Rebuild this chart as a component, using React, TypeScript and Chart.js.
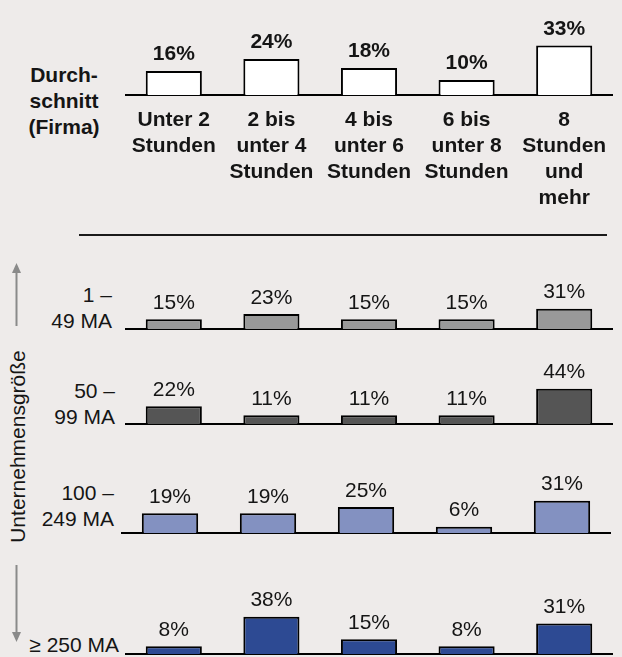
import React, { useEffect, useRef } from "react";
import { Chart, registerables } from "chart.js";

Chart.register(...registerables);

// ---- data ----
const categories: string[][] = [
  ["Unter 2", "Stunden"],
  ["2 bis", "unter 4", "Stunden"],
  ["4 bis", "unter 6", "Stunden"],
  ["6 bis", "unter 8", "Stunden"],
  ["8", "Stunden", "und", "mehr"],
];
const averageLabel = ["Durch-", "schnitt", "(Firma)"];
const averageValues = [16, 24, 18, 10, 33];

const sizeLabels = [["1 –", "49 MA"], ["50 –", "99 MA"], ["100 –", "249 MA"], ["≥ 250 MA"]];
const size1to49 = [15, 23, 15, 15, 31];
const size50to99 = [22, 11, 11, 11, 44];
const size100to249 = [19, 19, 25, 6, 31];
const size250plus = [8, 38, 15, 8, 31];
const axisTitle = "Unternehmensgröße";

const FONT = "'Liberation Sans', Arial, Helvetica, sans-serif";
const TEXT = "#151515";
const BG = "#eeebea";

const valueLabels = {
  id: "valueLabels",
  afterDatasetsDraw(chart: any, _args: any, opts: any) {
    const ctx = chart.ctx;
    const meta = chart.getDatasetMeta(0);
    const data = chart.data.datasets[0].data;
    ctx.save();
    ctx.font = `${opts.weight} 21px ${FONT}`;
    ctx.fillStyle = TEXT;
    ctx.textAlign = "center";
    ctx.textBaseline = "alphabetic";
    meta.data.forEach((bar: any, i: number) => {
      ctx.fillText(`${data[i]}%`, bar.x, bar.y - 10.5);
    });
    ctx.restore();
  },
};

type RowProps = {
  values: number[];
  color: string;
  left: number;
  top: number;
  width: number;
  plotHeight: number;
  axisHeight: number;
  ymax: number;
  bold?: boolean;
  showTicks?: boolean;
};

function BarRow(p: RowProps) {
  const ref = useRef<HTMLCanvasElement | null>(null);
  useEffect(() => {
    if (!ref.current) return;
    const chart = new Chart(ref.current, {
      type: "bar",
      data: {
        labels: categories as any,
        datasets: [
          {
            data: p.values,
            backgroundColor: p.color,
            borderColor: "#000",
            borderWidth: 2,
            barPercentage: 0.575,
            categoryPercentage: 1,
          },
        ],
      },
      options: {
        animation: false,
        responsive: false,
        maintainAspectRatio: false,
        layout: { padding: 0 },
        plugins: {
          legend: { display: false },
          tooltip: { enabled: false },
          valueLabels: { weight: p.bold ? "bold" : "normal" },
        } as any,
        scales: {
          y: { display: false, min: 0, max: p.ymax },
          x: {
            display: true,
            grid: { display: false, drawTicks: false },
            border: { display: true, color: "#000", width: 2 },
            ticks: {
              display: !!p.showTicks,
              autoSkip: false,
              maxRotation: 0,
              minRotation: 0,
              padding: 12,
              color: TEXT,
              font: { family: FONT, size: 21, weight: "bold", lineHeight: "26px" } as any,
            },
            afterFit: (scale: any) => {
              scale.height = p.axisHeight;
              scale.paddingLeft = 0;
              scale.paddingRight = 0;
            },
          },
        },
      },
      plugins: [valueLabels],
    });
    return () => chart.destroy();
  }, []);
  return (
    <canvas
      ref={ref}
      width={p.width}
      height={p.plotHeight + p.axisHeight}
      style={{ position: "absolute", left: p.left, top: p.top, width: p.width, height: p.plotHeight + p.axisHeight }}
    />
  );
}

function RowLabel({ lines, right, top, bold }: { lines: string[]; right: number; top: number; bold?: boolean }) {
  return (
    <div
      style={{
        position: "absolute",
        left: 0,
        width: right,
        top,
        textAlign: "right",
        font: `${bold ? "bold " : ""}21px ${FONT}`,
        lineHeight: "26px",
        color: TEXT,
        whiteSpace: "nowrap",
      }}
    >
      {lines.map((l, i) => (
        <div key={i}>{l}</div>
      ))}
    </div>
  );
}

export default function App() {
  useEffect(() => {
    document.body.style.margin = "0";
    document.body.style.background = BG;
  }, []);
  return (
    <div style={{ position: "absolute", left: 0, top: 0, width: 622, height: 657, background: BG, overflow: "hidden" }}>
      {/* average row */}
      <div
        style={{
          position: "absolute",
          left: 14,
          width: 100,
          top: 62,
          textAlign: "center",
          font: `bold 21px ${FONT}`,
          lineHeight: "26px",
          color: TEXT,
        }}
      >
        {averageLabel.map((l, i) => (
          <div key={i}>{l}</div>
        ))}
      </div>
      <BarRow values={averageValues} color="#ffffff" left={125} top={0} width={488} plotHeight={95} axisHeight={120} ymax={63.3} bold showTicks />

      {/* separator */}
      <div style={{ position: "absolute", left: 79, top: 234, width: 528, height: 2, background: "#1a1a1a" }} />

      {/* company size rows */}
      <RowLabel lines={sizeLabels[0]} right={112} top={282} />
      <BarRow values={size1to49} color="#999999" left={125} top={270} width={488} plotHeight={59} axisHeight={2} ymax={90.8} />

      <RowLabel lines={sizeLabels[1]} right={115} top={378} />
      <BarRow values={size50to99} color="#555555" left={125} top={355} width={488} plotHeight={69} axisHeight={2} ymax={86} />

      <RowLabel lines={sizeLabels[2]} right={114} top={480} />
      <BarRow values={size100to249} color="#8391c1" left={121} top={470} width={490} plotHeight={63} axisHeight={2} ymax={60.6} />

      <RowLabel lines={sizeLabels[3]} right={119} top={632} />
      <BarRow values={size250plus} color="#2d4a93" left={125} top={585} width={488} plotHeight={69} axisHeight={2} ymax={70.4} />

      {/* vertical axis title with arrows */}
      <svg width={40} height={657} style={{ position: "absolute", left: 0, top: 0 }}>
        <line x1={16.5} y1={272} x2={16.5} y2={326} stroke="#8a8a8a" strokeWidth={2} />
        <polygon points="16.5,263 12,273 21,273" fill="#8a8a8a" />
        <line x1={16.5} y1={565} x2={16.5} y2={633} stroke="#8a8a8a" strokeWidth={2} />
        <polygon points="16.5,642 12,632 21,632" fill="#8a8a8a" />
        <text
          transform="translate(25,446.5) rotate(-90)"
          textAnchor="middle"
          style={{ font: `21px ${FONT}`, fill: TEXT }}
        >
          {axisTitle}
        </text>
      </svg>
    </div>
  );
}
